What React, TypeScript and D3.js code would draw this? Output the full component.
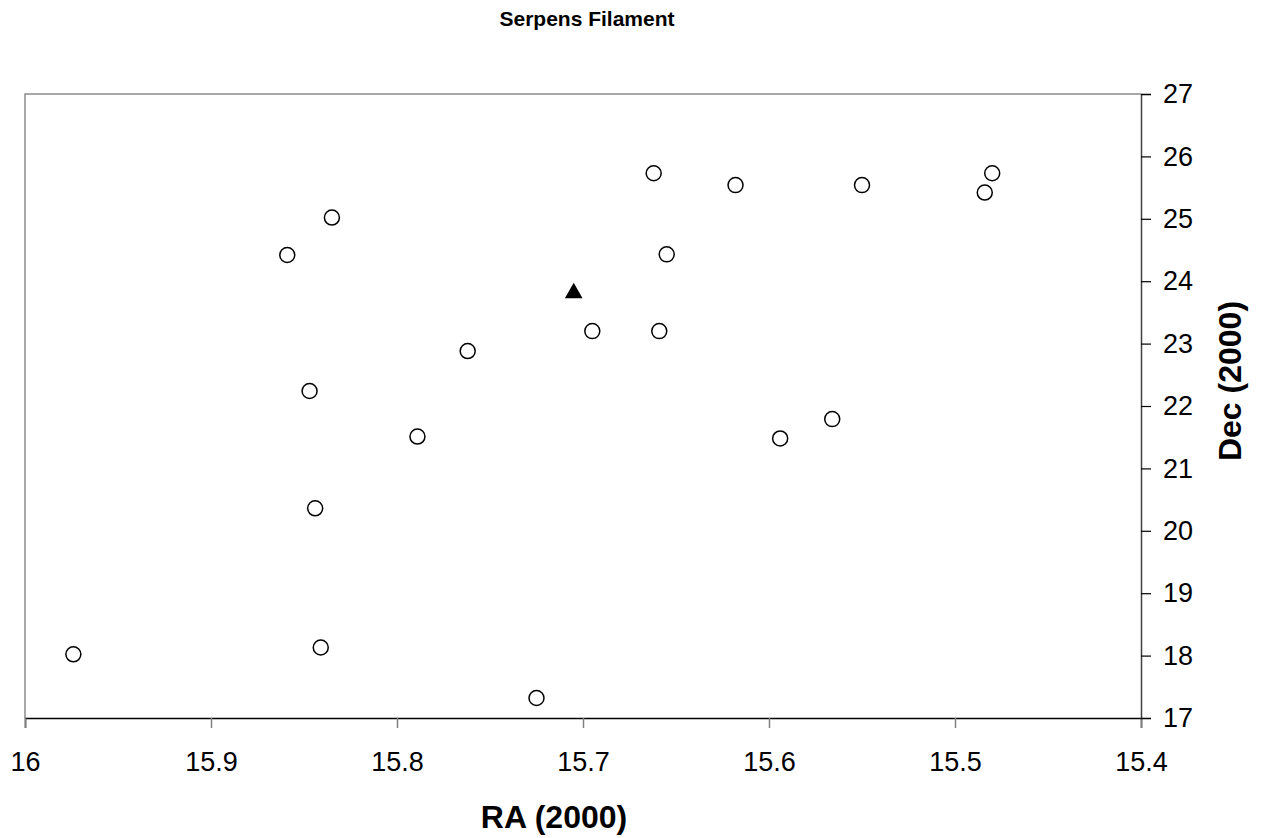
import * as d3 from "d3";
import { useRef, useEffect } from "react";

// RA / Dec of the filament cores (open circles)
const ra = [15.974, 15.859, 15.835, 15.847, 15.844, 15.841, 15.789, 15.762, 15.725, 15.695,
  15.662, 15.655, 15.659, 15.618, 15.594, 15.566, 15.55, 15.484, 15.48];
const dec = [18.02, 24.42, 25.02, 22.24, 20.36, 18.13, 21.51, 22.88, 17.32, 23.2,
  25.73, 24.43, 23.2, 25.54, 21.48, 21.79, 25.54, 25.42, 25.73];
// the single filled triangle
const triRa = [15.705];
const triDec = [23.81];

const xTicks = [16, 15.9, 15.8, 15.7, 15.6, 15.5, 15.4];
const yTicks = [17, 18, 19, 20, 21, 22, 23, 24, 25, 26, 27];

export default function App() {
  const svgRef = useRef<SVGSVGElement>(null);

  useEffect(() => {
    const width = 1265, height = 838;
    const left = 25, right = 1141, top = 94, bottom = 718;
    const svg = d3.select(svgRef.current);
    svg.selectAll("*").remove();
    svg.attr("width", width).attr("height", height);

    const x = d3.scaleLinear().domain([16, 15.4]).range([left, right]);
    const y = d3.scaleLinear().domain([17, 27]).range([bottom, top]);

    // frame: top + left in gray
    svg.append("path")
      .attr("d", `M${left},${bottom}V${top}H${right}`)
      .attr("fill", "none")
      .attr("stroke", "#8c8c8c")
      .attr("stroke-width", 1.5);

    const fmt = (d: any) => String(d);

    const xAxis = svg.append("g")
      .attr("transform", `translate(0,${bottom})`)
      .call(d3.axisBottom(x).tickValues(xTicks).tickFormat(fmt).tickSize(10).tickPadding(24));
    xAxis.select(".domain").attr("stroke", "#000").attr("stroke-width", 1.5);
    xAxis.selectAll(".tick line").attr("stroke", "#808080").attr("stroke-width", 1.5);
    xAxis.selectAll(".tick text")
      .attr("font-family", "Arial, 'Liberation Sans', sans-serif")
      .attr("font-size", 27)
      .attr("fill", "#000");

    const yAxis = svg.append("g")
      .attr("transform", `translate(${right},0)`)
      .call(d3.axisRight(y).tickValues(yTicks).tickFormat(fmt).tickSize(10).tickPadding(12));
    yAxis.select(".domain").attr("stroke", "#404040").attr("stroke-width", 1.5);
    yAxis.selectAll(".tick line").attr("stroke", "#000").attr("stroke-width", 1.2);
    yAxis.selectAll(".tick text")
      .attr("font-family", "Arial, 'Liberation Sans', sans-serif")
      .attr("font-size", 27)
      .attr("fill", "#000");

    svg.append("g")
      .selectAll("circle")
      .data(ra)
      .enter()
      .append("circle")
      .attr("cx", (d) => x(d))
      .attr("cy", (d, i) => y(dec[i]))
      .attr("r", 7.5)
      .attr("fill", "#fff")
      .attr("stroke", "#000")
      .attr("stroke-width", 1.5);

    svg.append("g")
      .selectAll("path")
      .data(triRa)
      .enter()
      .append("path")
      .attr("d", d3.symbol(d3.symbolTriangle, 135))
      .attr("transform", (d, i) => `translate(${x(d)},${y(triDec[i])})`)
      .attr("fill", "#000");

    svg.append("text")
      .attr("x", 587)
      .attr("y", 26)
      .attr("text-anchor", "middle")
      .attr("font-family", "Arial, 'Liberation Sans', sans-serif")
      .attr("font-weight", "bold")
      .attr("font-size", 21)
      .text("Serpens Filament");

    svg.append("text")
      .attr("x", 554)
      .attr("y", 828)
      .attr("text-anchor", "middle")
      .attr("font-family", "Arial, 'Liberation Sans', sans-serif")
      .attr("font-weight", "bold")
      .attr("font-size", 32)
      .text("RA (2000)");

    svg.append("text")
      .attr("transform", `translate(1241,381) rotate(-90)`)
      .attr("text-anchor", "middle")
      .attr("font-family", "Arial, 'Liberation Sans', sans-serif")
      .attr("font-weight", "bold")
      .attr("font-size", 32)
      .text("Dec (2000)");
  }, []);

  return (
    <div style={{ position: "absolute", left: 0, top: 0, background: "#fff" }}>
      <svg ref={svgRef}></svg>
    </div>
  );
}
